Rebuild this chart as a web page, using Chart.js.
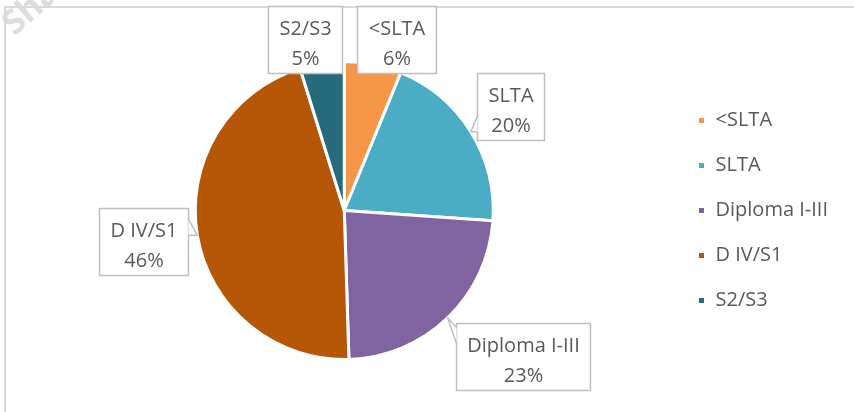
<!DOCTYPE html>
<html>
<head>
<meta charset="utf-8">
<script src="https://cdn.jsdelivr.net/npm/chart.js@4"></script>
<style>
  html, body { margin: 0; padding: 0; background: #fff; }
  #wrap { position: relative; width: 854px; height: 412px; }
</style>
</head>
<body>
<div id="wrap"><canvas id="pieChart" width="854" height="412"></canvas></div>
<script>
// data
const categories = ['<SLTA', 'SLTA', 'Diploma I-III', 'D IV/S1', 'S2/S3'];
const shares = [6.2, 19.9, 23.4, 45.7, 4.8];
const sliceColors = ['#F79646', '#4BACC6', '#8064A2', '#B65708', '#276A7C'];

// where each callout box sits, relative to the middle of its arc edge
const calloutOffsets = [[23, -25], [40, -25], [75, 39], [-54, 6], [-17, -24]];

const textGrey = '#595959';
const boxGrey = '#BFBFBF';
const labelFont = '"Open Sans"';

// frame round the chart plus the faint watermark in the corner
const framePlugin = {
    id: 'frame',
    beforeDraw(chart) {
        const ctx = chart.ctx;
        ctx.save();
        ctx.fillStyle = '#fff';
        ctx.fillRect(0, 0, chart.width, chart.height);
        ctx.translate(22, 30);
        ctx.rotate(-0.72);
        ctx.fillStyle = '#DDDDDD';
        ctx.font = 'bold 34px "Open Sans"';
        ctx.fillText('Sha', -10, 0);
        ctx.restore();
        ctx.save();
        ctx.strokeStyle = '#D9D9D9';
        ctx.lineWidth = 2;
        ctx.strokeRect(5, 7, chart.width + 10, chart.height + 10);
        ctx.restore();
    }
};

// Excel-style callout labels
const calloutPlugin = {
    id: 'callouts',
    afterDatasetsDraw(chart) {
        const ctx = chart.ctx;
        const arcs = chart.getDatasetMeta(0).data;
        ctx.save();
        ctx.font = '20px ' + labelFont;
        arcs.forEach((arc, i) => {
            const mid = (arc.startAngle + arc.endAngle) / 2;
            const tipX = arc.x + Math.cos(mid) * arc.outerRadius;
            const tipY = arc.y + Math.sin(mid) * arc.outerRadius;
            const line1 = categories[i];
            const line2 = Math.round(shares[i]) + '%';
            const w = Math.round(Math.max(ctx.measureText(line1).width, ctx.measureText(line2).width) + 22);
            const h = 67;
            const cx = tipX + calloutOffsets[i][0];
            const cy = tipY + calloutOffsets[i][1];
            const left = Math.round(cx - w / 2) + 0.5;
            const top = Math.round(cy - h / 2) + 0.5;
            const right = left + w, bottom = top + h;

            ctx.fillStyle = '#fff';
            ctx.strokeStyle = boxGrey;
            ctx.lineWidth = 1.5;
            ctx.fillRect(left, top, w, h);
            ctx.strokeRect(left, top, w, h);

            // pointer wedge when the arc edge lies outside the box
            let base = null;
            if (tipX < left) {
                const c = Math.min(Math.max(tipY - 8, top + 12), bottom - 12);
                base = [[left, c - 8], [left, c + 8]];
            } else if (tipX > right) {
                const c = Math.min(Math.max(tipY - 8, top + 12), bottom - 12);
                base = [[right, c - 8], [right, c + 8]];
            } else if (tipY > bottom) {
                const c = Math.min(Math.max(tipX, left + 12), right - 12);
                base = [[c - 8, bottom], [c + 8, bottom]];
            } else if (tipY < top) {
                const c = Math.min(Math.max(tipX + 40, left + 24), right - 12);
                base = [[c - 16, top], [c + 16, top]];
            }
            if (base) {
                ctx.beginPath();
                ctx.moveTo(base[0][0], base[0][1]);
                ctx.lineTo(tipX, tipY);
                ctx.lineTo(base[1][0], base[1][1]);
                ctx.closePath();
                ctx.fill();
                ctx.beginPath();
                ctx.moveTo(base[0][0], base[0][1]);
                ctx.lineTo(tipX, tipY);
                ctx.lineTo(base[1][0], base[1][1]);
                ctx.stroke();
            }

            ctx.fillStyle = textGrey;
            ctx.textAlign = 'center';
            ctx.textBaseline = 'alphabetic';
            ctx.fillText(line1, left + w / 2, top + 28);
            ctx.fillText(line2, left + w / 2, top + 58);
        });
        ctx.restore();
    }
};

new Chart(document.getElementById('pieChart'), {
    type: 'pie',
    data: {
        labels: categories,
        datasets: [{
            data: shares,
            backgroundColor: sliceColors,
            borderColor: '#fff',
            borderWidth: 3,
        }],
    },
    options: {
        responsive: false,
        animation: false,
        layout: {
            padding: { left: 16, right: 16, top: 60, bottom: 51 },
        },
        plugins: {
            legend: {
                position: 'right',
                align: 'center',
                labels: {
                    boxWidth: 8,
                    boxHeight: 8,
                    padding: 25,
                    color: textGrey,
                    font: { family: labelFont, size: 20 },
                },
            },
            tooltip: { enabled: false },
        },
    },
    plugins: [framePlugin, calloutPlugin],
});
</script>
</body>
</html>
